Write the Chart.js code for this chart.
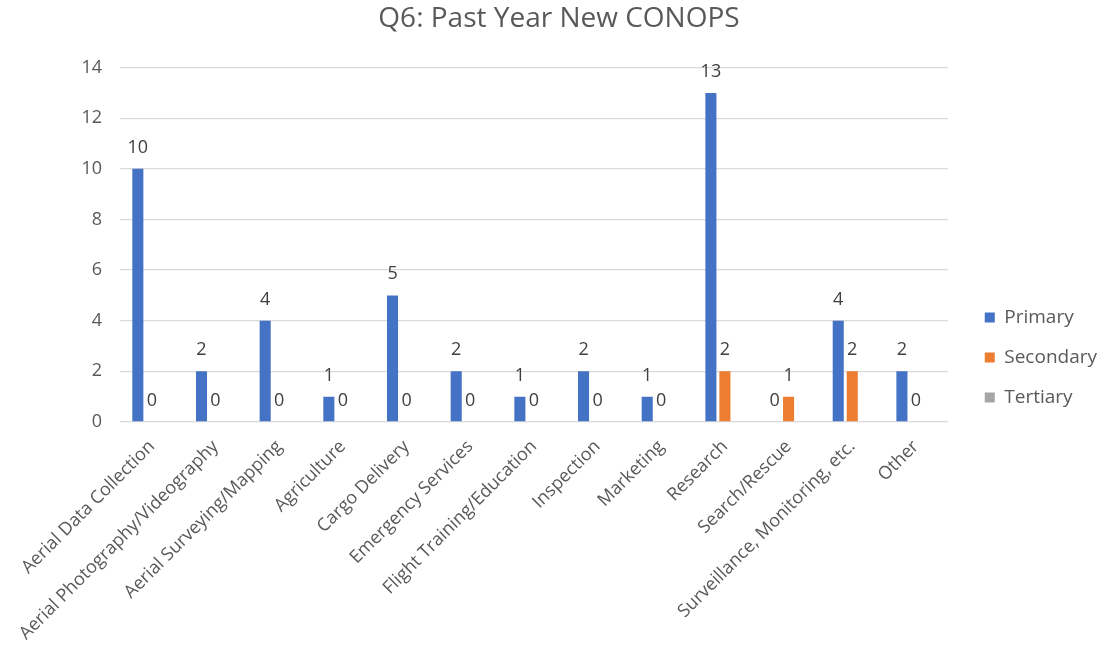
<!DOCTYPE html>
<html>
<head>
<meta charset="utf-8">
<script src="https://cdn.jsdelivr.net/npm/chart.js@4/dist/chart.umd.min.js"></script>
<style>
  html, body { margin: 0; padding: 0; background: #ffffff; }
  #wrap { width: 1099px; height: 653px; position: relative; }
</style>
</head>
<body>
<div id="wrap"><canvas id="chart"></canvas></div>
<script>
// Survey question Q6: new concepts of operations flown in the past year
const categories = [
  'Aerial Data Collection',
  'Aerial Photography/Videography',
  'Aerial Surveying/Mapping',
  'Agriculture',
  'Cargo Delivery',
  'Emergency Services',
  'Flight Training/Education',
  'Inspection',
  'Marketing',
  'Research',
  'Search/Rescue',
  'Surveillance, Monitoring, etc.',
  'Other'
];
const primaryCounts   = [10, 2, 4, 1, 5, 2, 1, 2, 1, 13, 0, 4, 2];
const secondaryCounts = [0, 0, 0, 0, 0, 0, 0, 0, 0, 2, 1, 2, 0];
const tertiaryCounts  = [null, null, null, null, null, null, null, null, null, null, null, null, null];
const yTicks = [0, 2, 4, 6, 8, 10, 12, 14];

const FONT = '"Open Sans", "Noto Sans", sans-serif';
const TEXT = '#595959';

// Value labels above the Primary and Secondary bars
const valueLabels = {
  id: 'valueLabels',
  afterDatasetsDraw(chart) {
    const ctx = chart.ctx;
    ctx.save();
    ctx.font = '18px ' + FONT;
    ctx.fillStyle = '#404040';
    ctx.textAlign = 'center';
    ctx.textBaseline = 'alphabetic';
    chart.data.datasets.forEach((ds, i) => {
      if (!ds.showValues) return;
      const meta = chart.getDatasetMeta(i);
      meta.data.forEach((bar, j) => {
        const v = ds.data[j];
        if (v === null || v === undefined) return;
        ctx.fillText(String(v), bar.x, bar.y - 16);
      });
    });
    ctx.restore();
  }
};

new Chart(document.getElementById('chart'), {
  type: 'bar',
  data: {
    labels: categories,
    datasets: [
      { label: 'Primary',   data: primaryCounts,   backgroundColor: '#4472C4', showValues: true },
      { label: 'Secondary', data: secondaryCounts, backgroundColor: '#ED7D31', showValues: true },
      { label: 'Tertiary',  data: tertiaryCounts,  backgroundColor: '#A5A5A5', showValues: false }
    ]
  },
  options: {
    responsive: true,
    maintainAspectRatio: false,
    animation: false,
    layout: { padding: { left: 11, right: -8, top: 0, bottom: 0 } },
    datasets: { bar: { barPercentage: 0.79, categoryPercentage: 0.66 } },
    plugins: {
      title: {
        display: true,
        text: 'Q6: Past Year New CONOPS',
        color: TEXT,
        font: { family: FONT, size: 28, weight: 'normal' },
        padding: { top: 2, bottom: 32 }
      },
      legend: {
        position: 'right',
        align: 'center',
        // empty heading keeps the entries a little below the middle
        title: { display: true, text: ' ', font: { size: 10 }, padding: 25 },
        labels: {
          color: TEXT,
          font: { family: FONT, size: 19 },
          boxWidth: 10,
          boxHeight: 10,
          padding: 21
        }
      },
      tooltip: { enabled: false }
    },
    scales: {
      x: {
        grid: { display: false },
        border: { display: false },
        ticks: {
          color: TEXT,
          font: { family: FONT, size: 18 },
          minRotation: 45,
          maxRotation: 45,
          autoSkip: false,
          padding: 6
        },
        afterFit(scale) { scale.height = 231; }
      },
      y: {
        min: 0,
        max: 14,
        afterBuildTicks(scale) { scale.ticks = yTicks.map(v => ({ value: v })); },
        grid: { color: '#d9d9d9', lineWidth: 1.3, drawTicks: false },
        border: { display: false },
        ticks: {
          color: TEXT,
          font: { family: FONT, size: 18 },
          padding: 18
        },
        afterFit(scale) { scale.width = 109; }
      },
      // blank right-hand axis: a gap between the plot and the legend
      gap: {
        type: 'linear',
        position: 'right',
        display: true,
        grid: { display: false, drawTicks: false },
        border: { display: false },
        ticks: { display: false },
        afterFit(scale) { scale.width = 16; }
      }
    }
  },
  plugins: [valueLabels]
});
</script>
</body>
</html>
